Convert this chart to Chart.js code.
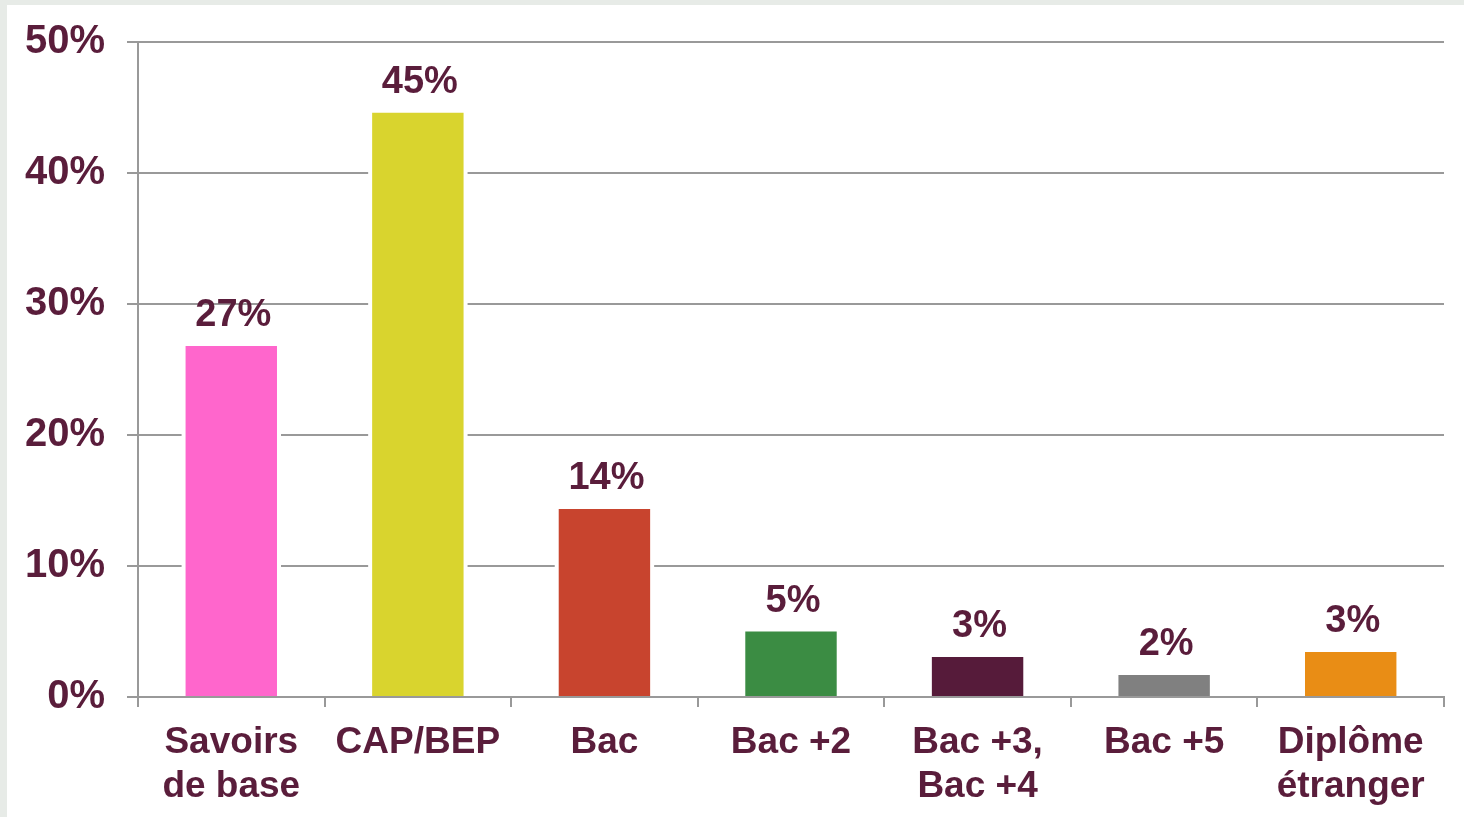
<!DOCTYPE html>
<html lang="fr">
<head>
<meta charset="utf-8">
<title>Niveau de formation</title>
<script src="https://cdn.jsdelivr.net/npm/chart.js@4/dist/chart.umd.min.js"></script>
<style>
    html, body { margin: 0; padding: 0; background: #fff; }
    .cadre {
        width: 1464px;
        height: 817px;
        box-sizing: border-box;
        border-top: 5px solid #e7ebe7;
        border-left: 7px solid #e7ebe7;
        background: #fff;
    }
    #chart { display: block; }
</style>
</head>
<body>
<div class="cadre">
    <canvas id="chart" width="1457" height="812"></canvas>
</div>
<script>
// données
const categories = [
    ["Savoirs", "de base"],
    "CAP/BEP",
    "Bac",
    "Bac +2",
    ["Bac +3,", "Bac +4"],
    "Bac +5",
    ["Diplôme", "étranger"]
];
const valeurs = [26.8, 44.6, 14.35, 5.0, 3.05, 1.68, 3.44];
const etiquettes = ["27%", "45%", "14%", "5%", "3%", "2%", "3%"];
const couleurs = ["#ff66cc", "#d9d42e", "#c8442e", "#3b8c43", "#561b3a", "#808080", "#e98d15"];

const texte = "#5a1d3b";
const police = "'Liberation Sans', Arial, sans-serif";

// fond blanc autour des barres (coupe la grille) + pourcentages au-dessus
const barresPlugin = {
    id: "barres",
    beforeDatasetsDraw(chart) {
        const ctx = chart.ctx;
        ctx.save();
        ctx.fillStyle = "#ffffff";
        chart.getDatasetMeta(0).data.forEach((bar) => {
            const w = bar.width + 8;
            ctx.fillRect(bar.x - w / 2, bar.y - 4, w, bar.base - bar.y + 2);
        });
        ctx.restore();
    },
    afterDatasetsDraw(chart) {
        const ctx = chart.ctx;
        ctx.save();
        ctx.font = "bold 38px " + police;
        ctx.fillStyle = texte;
        ctx.textAlign = "center";
        ctx.textBaseline = "alphabetic";
        chart.getDatasetMeta(0).data.forEach((bar, i) => {
            ctx.fillText(etiquettes[i], bar.x + 2, bar.y - 20);
        });
        ctx.restore();
    }
};

new Chart(document.getElementById("chart"), {
    type: "bar",
    data: {
        labels: categories,
        datasets: [
            {
                data: valeurs,
                backgroundColor: couleurs,
                borderWidth: 0,
                barPercentage: 0.49,
                categoryPercentage: 1
            }
        ]
    },
    options: {
        responsive: false,
        animation: false,
        layout: { padding: { top: 37, right: 20, left: 0, bottom: 0 } },
        plugins: {
            legend: { display: false },
            tooltip: { enabled: false }
        },
        scales: {
            x: {
                offset: true,
                grid: {
                    offset: true,
                    drawOnChartArea: false,
                    drawTicks: true,
                    tickLength: 10,
                    color: "#999999",
                    lineWidth: 2
                },
                border: { display: true, color: "#999999", width: 2 },
                ticks: {
                    color: texte,
                    font: { family: police, size: 37, weight: "bold", lineHeight: 1.19 },
                    padding: 14,
                    maxRotation: 0,
                    autoSkip: false
                },
                afterFit(scale) {
                    scale.height = 120;
                    scale.paddingLeft = 0;
                    scale.paddingRight = 0;
                }
            },
            y: {
                min: 0,
                max: 50,
                grid: {
                    color: "#999999",
                    lineWidth: 2,
                    tickLength: 11,
                    drawTicks: true
                },
                border: { display: true, color: "#999999", width: 2 },
                ticks: {
                    stepSize: 10,
                    color: texte,
                    font: { family: police, size: 40, weight: "bold" },
                    padding: 22,
                    callback: (v) => v + "%"
                },
                afterFit(scale) {
                    scale.width = 131;
                    scale.paddingTop = 0;
                    scale.paddingBottom = 0;
                }
            }
        }
    },
    plugins: [barresPlugin]
});
</script>
</body>
</html>
